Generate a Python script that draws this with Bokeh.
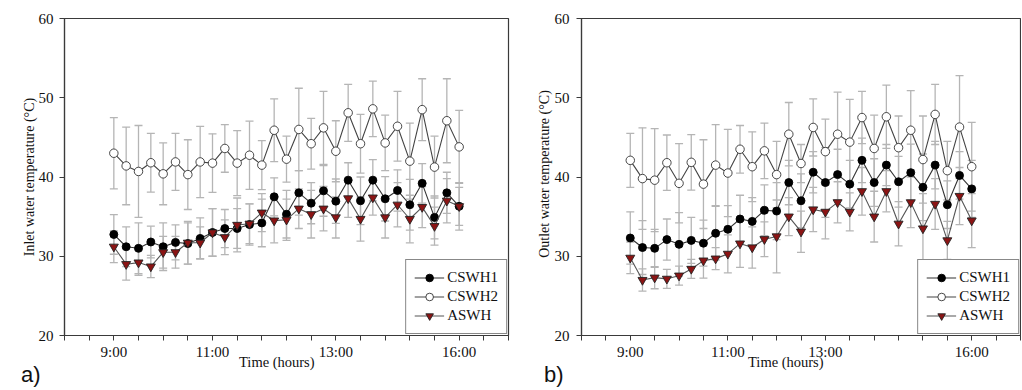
from bokeh.plotting import figure
from bokeh.models import (ColumnDataSource, Range1d, FixedTicker, Whisker, TeeHead,
                          Legend, LegendItem, Div)
from bokeh.layouts import row
from bokeh.embed import file_html
from bokeh.resources import INLINE

# ---------------- data ----------------
idx = list(range(29))  # 15-min steps from 9:00 to 16:00
x_ticks = list(range(-4, 33, 2))
a_tick_labels = {0: "9:00", 8: "11:00", 18: "13:00", 28: "16:00"}
b_tick_labels = {0: "9:00", 8: "11:00", 16: "13:00", 28: "16:00"}
y_ticks = [20, 30, 40, 50, 60]
series_names = ["CSWH1", "CSWH2", "ASWH"]

a_cswh1 = [32.75, 31.2, 31.0, 31.8, 31.2, 31.75, 31.6, 32.25, 33.0, 33.5, 33.5, 34.0, 34.2, 37.5, 35.3,
           38.0, 36.7, 38.25, 36.95, 39.6, 37.0, 39.6, 37.25, 38.3, 36.5, 39.2, 34.9, 38.0, 36.3]
a_cswh1_err = [2.5, 2.5, 3.2, 2.0, 3.0, 2.2, 2.6, 2.6, 3.0, 2.4, 2.5, 2.6, 3.0, 2.4, 3.0,
               2.8, 2.6, 3.2, 2.8, 2.2, 3.0, 2.6, 2.8, 2.6, 3.2, 2.5, 2.7, 2.6, 2.4]
a_cswh2 = [43.0, 41.4, 40.7, 41.8, 40.4, 41.9, 40.3, 41.9, 41.75, 43.6, 41.75, 42.75, 41.5, 45.9, 42.25,
           46.0, 44.2, 46.2, 43.25, 48.1, 44.2, 48.6, 44.3, 46.4, 42.0, 48.5, 41.25, 47.1, 43.8]
a_cswh2_err = [4.5, 4.9, 5.8, 3.7, 3.9, 3.6, 4.4, 4.5, 3.7, 3.0, 4.1, 4.3, 3.1, 3.95, 2.9,
               5.2, 3.2, 4.6, 3.85, 3.6, 3.7, 3.5, 3.5, 4.4, 4.8, 3.9, 3.9, 5.3, 4.6]
a_aswh = [31.2, 29.0, 29.2, 28.7, 30.5, 30.5, 31.7, 31.7, 33.0, 32.4, 33.95, 34.1, 35.5, 34.5, 34.6,
          36.0, 35.3, 36.0, 34.9, 37.3, 34.7, 37.4, 34.9, 36.5, 34.7, 36.2, 33.8, 37.0, 36.3]
a_aswh_err = [2.0, 2.0, 1.6, 1.4, 2.0, 2.0, 2.7, 2.0, 3.0, 2.2, 3.4, 2.5, 2.4, 2.8, 2.6,
              2.5, 3.0, 2.8, 2.6, 2.4, 2.8, 2.2, 2.6, 2.8, 3.0, 2.6, 2.4, 2.8, 3.0]

b_cswh1 = [32.3, 31.1, 31.0, 32.1, 31.5, 32.0, 31.65, 32.9, 33.4, 34.7, 34.4, 35.8, 35.7, 39.3, 37.0,
           40.6, 39.3, 40.3, 39.1, 42.1, 39.3, 41.5, 39.4, 40.55, 38.7, 41.5, 36.5, 40.2, 38.5]
b_cswh1_err = [3.3, 3.4, 2.4, 2.6, 4.0, 2.9, 2.9, 3.4, 3.0, 3.0, 3.0, 3.2, 3.6, 2.8, 3.4,
               2.6, 4.4, 3.2, 3.0, 2.8, 3.0, 2.6, 3.2, 3.6, 4.2, 3.0, 3.0, 3.0, 3.6]
b_cswh2 = [42.1, 39.8, 39.6, 41.8, 39.2, 41.85, 39.1, 41.5, 40.5, 43.5, 41.3, 43.3, 40.3, 45.4, 41.7,
           46.25, 43.2, 45.4, 44.4, 47.5, 43.6, 47.6, 43.7, 45.9, 42.2, 47.9, 40.8, 46.3, 41.3]
b_cswh2_err = [3.4, 6.4, 6.5, 3.5, 5.0, 3.5, 5.6, 5.1, 5.5, 3.0, 4.4, 3.5, 4.2, 4.0, 2.4,
               3.6, 4.1, 5.3, 5.4, 3.3, 4.2, 4.0, 4.0, 5.0, 5.5, 3.8, 3.7, 6.5, 5.6]
b_aswh = [29.8, 27.0, 27.3, 27.15, 27.55, 28.4, 29.45, 29.7, 30.3, 31.6, 31.1, 32.15, 32.5, 35.0, 33.1,
          35.9, 35.6, 36.8, 35.6, 38.2, 35.0, 38.2, 34.1, 36.8, 33.5, 36.6, 32.0, 37.6, 34.5]
b_aswh_err = [2.0, 1.4, 1.4, 1.2, 1.2, 1.2, 2.2, 1.4, 2.4, 3.0, 2.6, 2.2, 4.6, 2.4, 2.6,
              2.8, 3.4, 2.6, 2.4, 3.0, 3.2, 2.6, 2.8, 3.2, 4.4, 3.2, 2.4, 3.6, 3.4]

SERIF = "Liberation Serif"
SANS = "Liberation Sans"
ERR_COLOR = "#b5b5b5"
AXIS_COLOR = "#3a3a3a"


def make_panel(width, height, border_left, border_right, border_top, border_bottom,
               tick_labels, ystandoff, series):
    p = figure(width=width, height=height, x_range=Range1d(-4, 32), y_range=Range1d(20, 60),
               output_backend="svg", toolbar_location=None,
               min_border_left=border_left, min_border_right=border_right,
               min_border_top=border_top, min_border_bottom=border_bottom)
    p.grid.visible = False
    p.outline_line_color = AXIS_COLOR
    p.outline_line_width = 1.2
    p.background_fill_color = "white"
    p.border_fill_color = "white"

    xa = p.xaxis[0]
    xa.ticker = FixedTicker(ticks=x_ticks)
    xa.major_label_overrides = {t: tick_labels.get(t, "") for t in x_ticks}
    ya = p.yaxis[0]
    ya.ticker = FixedTicker(ticks=y_ticks)
    for ax in (xa, ya):
        ax.axis_line_color = AXIS_COLOR
        ax.axis_line_width = 1.2
        ax.major_tick_line_color = AXIS_COLOR
        ax.major_tick_in = 0
        ax.major_tick_out = 5
        ax.minor_tick_line_color = None
        ax.major_label_text_font = SERIF
        ax.major_label_text_font_size = "15px"
        ax.major_label_text_color = "#111111"
    xa.major_label_standoff = 3
    ya.major_label_standoff = ystandoff

    renderers = {}
    # error bars first
    for name, vals, errs, *_ in series:
        src = ColumnDataSource(dict(x=idx, lower=[v - e for v, e in zip(vals, errs)],
                                    upper=[v + e for v, e in zip(vals, errs)]))
        w = Whisker(source=src, base="x", lower="lower", upper="upper",
                    line_color=ERR_COLOR, line_width=1.3,
                    upper_head=TeeHead(size=8, line_color=ERR_COLOR, line_width=1.3),
                    lower_head=TeeHead(size=8, line_color=ERR_COLOR, line_width=1.3))
        p.add_layout(w)
    draw_order = ["CSWH2", "CSWH1", "ASWH"]
    styles = {s[0]: s for s in series}
    for name in draw_order:
        _, vals, errs, marker, fill, line_col, lc, size = styles[name]
        src = ColumnDataSource(dict(x=idx, y=vals))
        l = p.line("x", "y", source=src, line_color=lc, line_width=1.1)
        s = p.scatter("x", "y", source=src, marker=marker, size=size,
                      fill_color=fill, line_color=line_col, line_width=0.9)
        renderers[name] = [l, s]

    legend = Legend(items=[LegendItem(label=n, renderers=renderers[n]) for n in series_names],
                    location="bottom_right", margin=1, padding=8, spacing=0,
                    glyph_width=30, glyph_height=19, label_height=19, label_standoff=3,
                    label_text_font=SERIF, label_text_font_size="15px",
                    label_text_color="#111111",
                    border_line_color="#111111", border_line_width=1.5,
                    background_fill_color="white", background_fill_alpha=1.0)
    p.add_layout(legend)
    return p


def series_list(c1, c1e, c2, c2e, a, ae):
    return [
        ("CSWH1", c1, c1e, "circle", "black", "black", "#333333", 8),
        ("CSWH2", c2, c2e, "circle", "white", "#333333", "#444444", 8.5),
        ("ASWH", a, ae, "inverted_triangle", "#8b1414", "#222222", "#555555", 9),
    ]


# page has no body margin with Bokeh's template: figures start at the page corner
pa = make_panel(528, 385, 64, 20, 16, 50, a_tick_labels, 6,
                series_list(a_cswh1, a_cswh1_err, a_cswh2, a_cswh2_err, a_aswh, a_aswh_err))
pb = make_panel(493, 385, 53, 1, 18, 50, b_tick_labels, 7,
                series_list(b_cswh1, b_cswh1_err, b_cswh2, b_cswh2_err, b_aswh, b_aswh_err))


def text_div(text, left, top, font, size, rotate=False):
    st = {"position": "absolute", "left": f"{left}px", "top": f"{top}px",
          "font-family": font, "font-size": f"{size}px",
          "color": "#111111", "white-space": "nowrap",
          "margin": "0", "padding": "0", "line-height": "normal"}
    if rotate:
        st["transform"] = "translate(-50%, -50%) rotate(-90deg)"
    return Div(text=text, styles=st)


ylabel_a = text_div("Inlet water temperature (°C)", 30, 177, SERIF, 14, rotate=True)
ylabel_b = text_div("Outlet water temperature (°C)", 545, 174, SERIF, 14, rotate=True)
xlabel_a = text_div("Time (hours)", 239, 354, SERIF, 14.5)
xlabel_b = text_div("Time (hours)", 748, 354, SERIF, 14.5)
tag_a = text_div("a)", 21, 362, SANS, 22)
tag_b = text_div("b)", 544, 362, SANS, 22)

layout = row(pa, pb)
open("out.html", "w").write(file_html([layout, ylabel_a, ylabel_b, xlabel_a, xlabel_b, tag_a, tag_b],
                                      INLINE))
